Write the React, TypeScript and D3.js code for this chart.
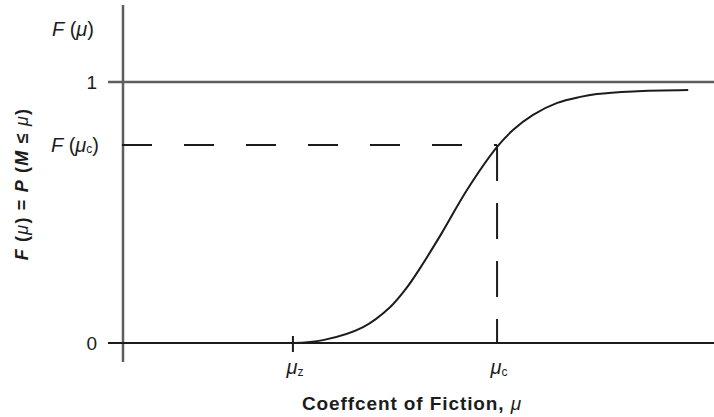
import React, { useEffect, useRef } from 'react';
import * as d3 from 'd3';

// cumulative curve F(mu), x in arbitrary units (0..100 across the plot)
const curveX = [28.8, 33.9, 40.7, 45.3, 48.1, 50.3, 54.0, 58.3, 63.4, 66.1, 69.5, 73.6, 77.5, 80.3, 86.4, 95.8];
const curveF = [0, 0.011, 0.061, 0.138, 0.212, 0.285, 0.42, 0.586, 0.751, 0.816, 0.874, 0.92, 0.943, 0.954, 0.964, 0.969];

const muZ = 28.8;
const muC = 63.4;
const fMuC = 0.759;

const yTicks = [0, 1];

const App = () => {
  const ref = useRef<SVGSVGElement>(null);

  useEffect(() => {
    const svg = d3.select(ref.current);
    svg.selectAll('*').remove();

    const x = d3.scaleLinear().domain([0, 100]).range([123, 713]);
    const y = d3.scaleLinear().domain([0, 1]).range([343, 82]);

    const dark = '#1c1c1c';
    const grey = '#5e5e5e';
    const font = 'Liberation Sans, Arial, sans-serif';

    // vertical axis
    svg
      .append('line')
      .attr('x1', x(0))
      .attr('x2', x(0))
      .attr('y1', 5)
      .attr('y2', 362)
      .attr('stroke', grey)
      .attr('stroke-width', 2.5);

    // horizontal lines at F = 1 and F = 0
    yTicks.forEach((t) => {
      svg
        .append('line')
        .attr('x1', x(0) - 15)
        .attr('x2', 714)
        .attr('y1', y(t))
        .attr('y2', y(t))
        .attr('stroke', t === 1 ? grey : dark)
        .attr('stroke-width', t === 1 ? 2.5 : 2);
      svg
        .append('text')
        .attr('x', x(0) - 26)
        .attr('y', y(t) + 7)
        .attr('text-anchor', 'end')
        .attr('font-family', font)
        .attr('font-size', 19)
        .attr('fill', dark)
        .text(String(t));
    });

    // dashed guides to F(mu_c)
    svg
      .append('line')
      .attr('x1', x(0) - 1)
      .attr('x2', x(muC))
      .attr('y1', y(fMuC))
      .attr('y2', y(fMuC))
      .attr('stroke', dark)
      .attr('stroke-width', 2)
      .attr('stroke-dasharray', '30 32');
    svg
      .append('line')
      .attr('x1', x(muC))
      .attr('x2', x(muC))
      .attr('y1', y(fMuC))
      .attr('y2', y(0))
      .attr('stroke', dark)
      .attr('stroke-width', 2)
      .attr('stroke-dasharray', '36 22');

    // tick at mu_z
    svg
      .append('line')
      .attr('x1', x(muZ))
      .attr('x2', x(muZ))
      .attr('y1', y(0) - 7)
      .attr('y2', y(0) + 9)
      .attr('stroke', dark)
      .attr('stroke-width', 2);

    // the curve
    const pts: [number, number][] = curveX.map((d, i) => [d, curveF[i]]);
    svg
      .append('path')
      .datum(pts)
      .attr('fill', 'none')
      .attr('stroke', dark)
      .attr('stroke-width', 2)
      .attr(
        'd',
        d3
          .line<[number, number]>()
          .x((d) => x(d[0]))
          .y((d) => y(d[1]))
          .curve(d3.curveCatmullRom.alpha(0.5)),
      );

    // left labels F(mu), F(mu_c)
    const fLabel = (xx: number, yy: number, sub: string | null) => {
      const t = svg
        .append('text')
        .attr('x', xx)
        .attr('y', yy)
        .attr('text-anchor', 'end')
        .attr('font-family', font)
        .attr('font-size', 20)
        .attr('fill', dark);
      t.append('tspan').attr('font-style', 'italic').text('F');
      t.append('tspan').text(' (');
      t.append('tspan').attr('font-style', 'italic').text('μ');
      if (sub) t.append('tspan').attr('font-size', 12).attr('dy', 1).text(sub);
      t.append('tspan').attr('dy', sub ? -1 : 0).text(')');
    };
    fLabel(94, 36, null);
    fLabel(99, y(fMuC) + 7, 'c');

    // x labels mu_z, mu_c
    [
      [muZ, 'z'],
      [muC, 'c'],
    ].forEach(([v, s]) => {
      const t = svg
        .append('text')
        .attr('x', x(v as number) + 2)
        .attr('y', 374)
        .attr('text-anchor', 'middle')
        .attr('font-family', font)
        .attr('font-size', 20)
        .attr('fill', dark);
      t.append('tspan').attr('font-style', 'italic').text('μ');
      t.append('tspan').attr('font-size', 12).attr('dy', 2).text(s as string);
    });

    // x title
    const xt = svg
      .append('text')
      .attr('x', 412)
      .attr('y', 410)
      .attr('text-anchor', 'middle')
      .attr('font-family', font)
      .attr('font-size', 19)
      .attr('font-weight', 'bold')
      .attr('letter-spacing', 0.9)
      .attr('fill', dark);
    xt.append('tspan').text('Coeffcent of Fiction, ');
    xt.append('tspan').attr('font-style', 'italic').attr('font-weight', 'normal').text('μ');

    // y title
    const yt = svg
      .append('text')
      .attr('transform', 'translate(28,184) rotate(-90)')
      .attr('text-anchor', 'middle')
      .attr('font-family', font)
      .attr('font-size', 18)
      .attr('font-weight', 'bold')
      .attr('letter-spacing', 1.2)
      .attr('fill', dark);
    yt.append('tspan').attr('font-style', 'italic').text('F');
    yt.append('tspan').text(' (');
    yt.append('tspan').attr('font-style', 'italic').attr('font-weight', 'normal').text('μ');
    yt.append('tspan').text(') = ');
    yt.append('tspan').attr('font-style', 'italic').text('P');
    yt.append('tspan').text(' (');
    yt.append('tspan').attr('font-style', 'italic').text('M');
    yt.append('tspan').text(' ≤ ');
    yt.append('tspan').attr('font-style', 'italic').attr('font-weight', 'normal').text('μ');
    yt.append('tspan').text(')');
  }, []);

  return (
    <svg
      ref={ref}
      width={714}
      height={417}
      style={{ position: 'absolute', left: 0, top: 0, background: '#fff' }}
    />
  );
};

export default App;
